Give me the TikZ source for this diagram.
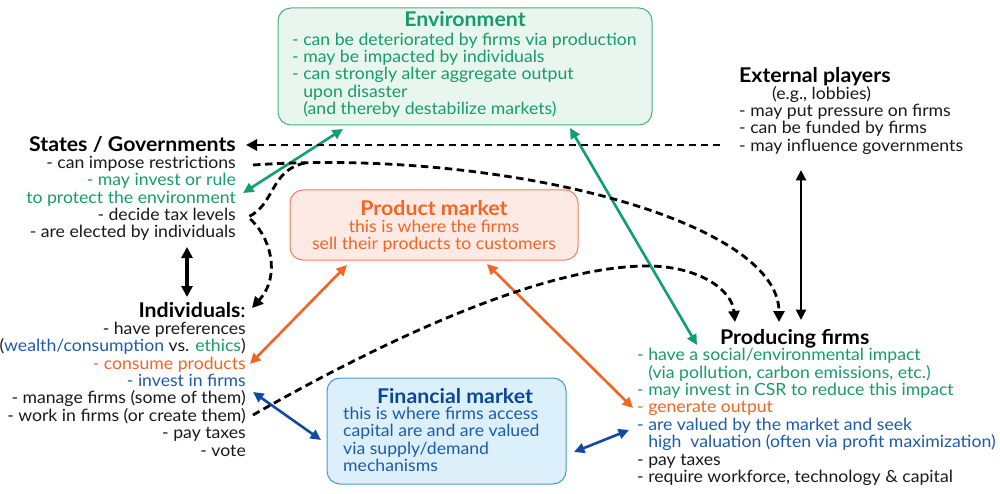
\documentclass[tikz,border=0pt]{standalone}
\usepackage{fontspec}
\setmainfont[FakeStretch=1.05]{Lato}
\usetikzlibrary{arrows.meta}
\definecolor{tgreen}{RGB}{22,155,105}
\definecolor{agreen}{RGB}{15,160,110}
\definecolor{envfill}{RGB}{232,246,238}
\definecolor{envdraw}{RGB}{70,175,125}
\definecolor{torange}{RGB}{242,101,34}
\definecolor{prodfill}{RGB}{253,234,228}
\definecolor{proddraw}{RGB}{242,125,95}
\definecolor{tblue}{RGB}{30,90,170}
\definecolor{finblue}{RGB}{10,70,150}
\definecolor{finfill}{RGB}{220,240,252}
\definecolor{findraw}{RGB}{70,150,210}
\definecolor{ablue}{RGB}{15,75,160}
\definecolor{tblack}{RGB}{25,25,25}
\tikzset{
  body/.style={inner sep=0pt, font=\fontsize{16.8}{17.4}\selectfont, text=tblack},
  ttl/.style={inner sep=0pt, font=\fontsize{20.3}{21}\selectfont\bfseries, text=black},
  box/.style={draw, line width=1pt, rounded corners=13pt, inner sep=0pt},
  link/.style={line width=2.6pt, {Triangle[length=10.5pt,width=10pt]}-{Triangle[length=10.5pt,width=10pt]}},
  blink/.style={line width=3.4pt, {Triangle[length=11pt,width=11pt]}-{Triangle[length=11pt,width=11pt]}},
  dlink/.style={line width=2.8pt, dash pattern=on 7.5pt off 4.5pt, -{Triangle[length=11pt,width=11pt]}},
}
\newcommand{\fst}{\rule{0pt}{13.5pt}}
\begin{document}
\begin{tikzpicture}[x=1pt,y=-1pt]
\useasboundingbox (0,0) rectangle (1000,494);
% boxes
\node[box, draw=envdraw, fill=envfill, minimum width=374pt, minimum height=117pt] (env) at (465,66.5) {};
\node[box, draw=proddraw, fill=prodfill, minimum width=288pt, minimum height=70pt] (prod) at (434,225) {};
\node[box, draw=findraw, fill=finfill, minimum width=239pt, minimum height=106pt] (fin) at (446.5,431) {};

% Environment
\node[ttl, text=tgreen, anchor=base] (envT) at (465,27) {Environment};
\node[body, text=tgreen, anchor=north west, align=left] (envB) at (292,31.5) {\fst- can be deteriorated by firms via production\\- may be impacted by individuals\\- can strongly alter aggregate output\\\phantom{- }upon disaster\\\phantom{- }(and thereby destabilize markets)};

% Product market
\node[ttl, text=torange, anchor=base] (prodT) at (434,215) {Product market};
\node[body, text=torange, anchor=north, align=center] (prodB) at (434,218.5) {\fst this is where the firms\\sell their products to customers};

% Financial market
\node[ttl, text=finblue, anchor=base] (finT) at (455,403) {Financial market};
\node[body, text=tblue, anchor=north west, align=left] (finB) at (343,405.5) {\fst this is where firms access\\capital are and are valued\\via supply/demand\\mechanisms};

% States
\node[ttl, anchor=base east] (stT) at (236,152) {States / Governments};
\node[body, anchor=north east, align=right] (stB) at (236,154.5) {\fst- can impose restrictions\\\textcolor{tgreen}{- may invest or rule}\\\textcolor{tgreen}{to protect the environment}\\- decide tax levels\\- are elected by individuals};

% Individuals
\node[ttl, anchor=base east] (indT) at (246,317) {Individuals\textmd{:}};
\node[body, anchor=north east, align=right] (indB) at (246,320.5) {\fst- have preferences\\(\textcolor{tblue}{wealth/consumption} vs. \textcolor{tgreen}{ethics})\\\textcolor{torange}{- consume products}\\\textcolor{tblue}{- invest in firms}\\- manage firms (some of them)\\- work in firms (or create them)\\- pay taxes\\- vote};

% External players
\node[ttl, anchor=base west] (extT) at (739,83) {External players};
\node[body, anchor=north west, align=left] (extB) at (739,85.5) {\fst\hspace{33pt}(e.g., lobbies)\\- may put pressure on firms\\- can be funded by firms\\- may influence governments};

% Producing firms
\node[ttl, anchor=base west] (firT) at (720,344) {Producing firms};
\node[body, anchor=north west, align=left] (firB) at (637,347) {\fst\textcolor{tgreen}{- have a social/environmental impact}\\\textcolor{tgreen}{\phantom{- }(via pollution, carbon emissions, etc.)}\\\textcolor{tgreen}{- may invest in CSR to reduce this impact}\\\textcolor{torange}{- generate output}\\\textcolor{tblue}{- are valued by the market and seek}\\\textcolor{tblue}{\phantom{- }high\ \ valuation (often via profit maximization)}\\- pay taxes\\- require workforce, technology \& capital};

% connector end points
\coordinate (envSW) at (343,129);
\coordinate (envSE) at (570,128);
\coordinate (stEnv) at (243,193);
\coordinate (firEnv) at (697,345);
\coordinate (prodSW) at (347,265);
\coordinate (prodSE) at (487,264);
\coordinate (indProd) at (250,364);
\coordinate (firProd) at (633,408);
\coordinate (indFin) at (253,392);
\coordinate (finW) at (321,440);
\coordinate (finE) at (574,452);
\coordinate (firFin) at (629,430);
\coordinate (stInd) at (187,247);
\coordinate (indSt) at (187,297);
\coordinate (extFir) at (801,170);
\coordinate (firExt) at (801,320);
\coordinate (extSt) at (720,145);
\coordinate (stExt) at (246,145);
\coordinate (stRes) at (253,165);
\coordinate (firA) at (779,322);
\coordinate (indWork) at (253,415);
\coordinate (firB2) at (735,322);
\coordinate (branch) at (305,163);
\coordinate (stTax) at (248,217);
\coordinate (indTop) at (252,308);

% solid links
\draw[link, agreen] (stEnv) -- (envSW);
\draw[link, agreen] (envSE) -- (firEnv);
\draw[link, torange] (indProd) -- (prodSW);
\draw[link, torange] (prodSE) -- (firProd);
\draw[link, ablue] (indFin) -- (finW);
\draw[link, ablue] (finE) -- (firFin);
\draw[blink, black] (stInd) -- (indSt);
\draw[link, black] (extFir) -- (firExt);

% dashed links
\draw[dlink] (extSt) -- (stExt);
\draw[dlink] (stRes) .. controls (500,148) and (779,220) .. (firA);
\draw[dlink] (indWork) .. controls (420,320) and (560,265) .. (650,266) .. controls (700,267) and (732,290) .. (firB2);
\draw[dlink] (branch) .. controls (270,170) and (275,205) .. (stTax) .. controls (270,235) and (282,275) .. (indTop);
\end{tikzpicture}
\end{document}
